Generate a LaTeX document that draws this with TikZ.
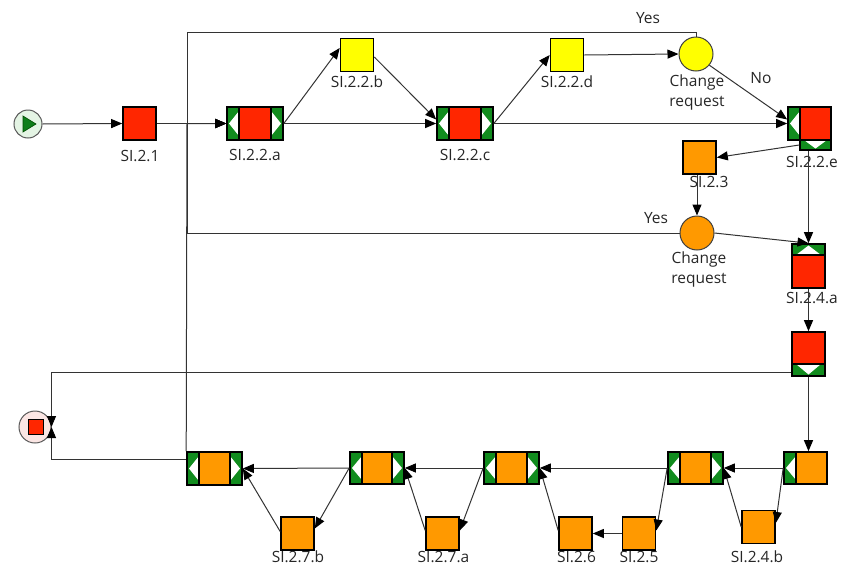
\documentclass[tikz,border=0pt]{standalone}
\usepackage{fontspec}
\setmainfont{Open Sans}
\usetikzlibrary{arrows.meta}
\definecolor{rd}{HTML}{FF2600}
\definecolor{yl}{HTML}{FFFF00}
\definecolor{og}{HTML}{FF9900}
\definecolor{gr}{HTML}{118C1E}
\definecolor{ln}{HTML}{333333}
\definecolor{startfill}{HTML}{E4F4E4}
\definecolor{endfill}{HTML}{FBE6E4}
\tikzset{
 conn/.style={draw=ln, line width=1pt, -{Triangle[length=11pt,width=9pt,black]}},
 lbl/.style={font=\fontsize{15.5}{20}\selectfont, text=black!85, align=center, inner sep=0pt, anchor=base},
 box/.style={draw=black, line width=1.6pt, inner sep=0pt, fill=#1},
 sq/.style={box=#1, minimum width=33pt, minimum height=33pt},
 lstrip/.style={path picture={
   \fill[gr] (path picture bounding box.north west) rectangle ([xshift=12pt]path picture bounding box.south west);
   \fill[white] ([xshift=2pt]path picture bounding box.west) -- ([xshift=12pt,yshift=-4pt]path picture bounding box.north west) -- ([xshift=12pt,yshift=4pt]path picture bounding box.south west) -- cycle;
   \draw[black, line width=1.2pt] ([xshift=12pt]path picture bounding box.north west) -- ([xshift=12pt]path picture bounding box.south west);}},
 both/.style={box=#1, minimum width=56pt, minimum height=33pt, path picture={
   \fill[gr] (path picture bounding box.north west) rectangle ([xshift=12pt]path picture bounding box.south west);
   \fill[white] ([xshift=2pt]path picture bounding box.west) -- ([xshift=12pt,yshift=-4pt]path picture bounding box.north west) -- ([xshift=12pt,yshift=4pt]path picture bounding box.south west) -- cycle;
   \draw[black, line width=1.2pt] ([xshift=12pt]path picture bounding box.north west) -- ([xshift=12pt]path picture bounding box.south west);
   \fill[gr] (path picture bounding box.north east) rectangle ([xshift=-12pt]path picture bounding box.south east);
   \fill[white] ([xshift=-2pt]path picture bounding box.east) -- ([xshift=-12pt,yshift=-4pt]path picture bounding box.north east) -- ([xshift=-12pt,yshift=4pt]path picture bounding box.south east) -- cycle;
   \draw[black, line width=1.2pt] ([xshift=-12pt]path picture bounding box.north east) -- ([xshift=-12pt]path picture bounding box.south east);}},
 leftonly/.style={box=#1, minimum width=43pt, minimum height=33pt, lstrip},
 topbox/.style={box=#1, minimum width=33pt, minimum height=44pt, path picture={
   \fill[gr] (path picture bounding box.north west) rectangle ([yshift=-11pt]path picture bounding box.north east);
   \fill[white] ([yshift=-1.5pt]path picture bounding box.north) -- ([xshift=4pt,yshift=-11pt]path picture bounding box.north west) -- ([xshift=-4pt,yshift=-11pt]path picture bounding box.north east) -- cycle;
   \draw[black, line width=1.2pt] ([yshift=-11pt]path picture bounding box.north west) -- ([yshift=-11pt]path picture bounding box.north east);}},
 botbox/.style={box=#1, minimum width=33pt, minimum height=44pt, path picture={
   \fill[gr] (path picture bounding box.south west) rectangle ([yshift=12pt]path picture bounding box.south east);
   \fill[white] ([yshift=1.5pt]path picture bounding box.south) -- ([xshift=4pt,yshift=12pt]path picture bounding box.south west) -- ([xshift=-4pt,yshift=12pt]path picture bounding box.south east) -- cycle;
   \draw[black, line width=1.2pt] ([yshift=12pt]path picture bounding box.south west) -- ([yshift=12pt]path picture bounding box.south east);}},
 bstrip/.style={box=gr, minimum width=31pt, minimum height=10pt, path picture={
   \fill[white] ([xshift=4pt]path picture bounding box.north west) -- ([xshift=-4pt]path picture bounding box.north east) -- ([yshift=1.5pt]path picture bounding box.south) -- cycle;}},
 gate/.style={circle, draw=black!75, line width=1pt, minimum size=34pt, inner sep=0pt, fill=#1},
}
\begin{document}
\begin{tikzpicture}[x=1pt,y=-1pt]
\useasboundingbox (0,0) rectangle (841,568);
% labels drawn first (SI.2.3 is partly hidden by its box)
\node[lbl] (l21) at (140,161) {SI.2.1};
\node[lbl] (l22a) at (255,160) {SI.2.2.a};
\node[lbl] (l22b) at (357,87) {SI.2.2.b};
\node[lbl] (l22c) at (465,160) {SI.2.2.c};
\node[lbl] (l22d) at (567,87) {SI.2.2.d};
\node[lbl, anchor=north] (lcr1) at (697,75) {Change\\request};
\node[lbl] (lyes1) at (648,23) {Yes};
\node[lbl] (lno) at (761,83) {No};
\node[lbl] (l22e) at (812,167) {SI.2.2.e};
\node[lbl] (l23) at (709,187) {SI.2.3};
\node[lbl] (lyes2) at (656,223) {Yes};
\node[lbl, anchor=north] (lcr2) at (699,252) {Change\\request};
\node[lbl] (l24a) at (812,303) {SI.2.4.a};
\node[lbl] (l24b) at (757,562) {SI.2.4.b};
\node[lbl] (l25) at (639,562) {SI.2.5};
\node[lbl] (l26) at (576.5,562) {SI.2.6};
\node[lbl] (l27a) at (443.5,562) {SI.2.7.a};
\node[lbl] (l27b) at (298,562) {SI.2.7.b};

% nodes
\node[circle, draw=black!65, line width=1pt, fill=startfill, minimum size=28pt, inner sep=0pt] (start) at (28,124) {};
\fill[gr!90!black, draw=black!70!green, line width=0.6pt] (23,116) -- (23,132) -- (36,124) -- cycle;
\node[sq=rd] (s21) at (139.5,123.5) {};
\node[both=rd] (s22a) at (255,123.5) {};
\node[sq=yl] (s22b) at (357,55) {};
\node[both=rd] (s22c) at (465,123.5) {};
\node[sq=yl] (s22d) at (567,55) {};
\node[gate=yl] (cr1) at (696,54) {};
\node[leftonly=rd] (s22e) at (809.5,123.5) {};
\node[bstrip] (s22es) at (815.5,145) {};
\node[sq=og] (s23) at (699.5,157.5) {};
\node[gate=og] (cr2) at (697,233) {};
\node[topbox=rd] (s24a) at (808.5,266) {};
\node[botbox=rd] (rbox) at (808.5,354) {};
\node[circle, draw=black!65, line width=1pt, fill=endfill, minimum size=32pt, inner sep=0pt] (endn) at (35,427) {};
\node[box=rd, line width=1pt, minimum size=15pt] (endsq) at (35.5,426.5) {};
\node[leftonly=og, minimum height=32pt] (b1) at (805.5,468) {};
\node[both=og, minimum width=55pt, minimum height=32pt] (b2) at (695.5,468) {};
\node[both=og, minimum width=55pt, minimum height=32pt] (b3) at (511.5,468) {};
\node[both=og, minimum width=54pt, minimum height=32pt] (b4) at (377,468) {};
\node[both=og, minimum width=55pt, minimum height=33pt] (b5) at (214.5,468.5) {};
\node[sq=og] (s24b) at (758.5,527) {};
\node[sq=og] (s25) at (639,533.5) {};
\node[sq=og] (s26) at (575.5,533.5) {};
\node[sq=og] (s27a) at (442.5,533.5) {};
\node[sq=og] (s27b) at (297.5,533.5) {};

\coordinate (tl) at (187,32);
\coordinate (jn) at (187,123.5);

% connectors
\draw[conn] (start.east) -- (s21.west);
\draw[conn] (s21.east) -- (s22a.west);
\draw[conn] (s22a.east) -- ([yshift=7pt]s22b.west);
\draw[conn] (s22a.east) -- (s22c.west);
\draw[conn] ([yshift=-2pt]s22b.east) -- ([yshift=4pt]s22c.west);
\draw[conn] (s22c.east) -- (s22d.west);
\draw[conn] (s22c.east) -- (s22e.west);
\draw[conn] (s22d.east) -- (cr1.west);
\draw[conn] (cr1.-40) -- ([yshift=4pt]s22e.west);
\draw[conn] (cr1.north) |- (tl) |- (s22a.west);
\draw[conn] (s22es.west) -- (s23.east);
\draw[conn] (s24a.north |- s22es.south) -- (s24a.north);
\draw[conn] (cr2.north |- s23.south) -- (cr2.north);
\draw[conn] (cr2.east) -- (s24a.north);
\draw[conn] (cr2.west) -| (jn) -- (s22a.west);
\draw[conn] (s24a.south) -- (rbox.north);
\draw[conn] ([yshift=-18pt]rbox.west) -| (endn.east);
\draw[conn] (rbox.south) -- (rbox.south |- b1.north);
\draw[conn] (b1.west) -- (b2.east);
\draw[conn] (b1.west) -- ([yshift=4pt]s24b.east);
\draw[conn] (s24b.west) -- (b2.east);
\draw[conn] (b2.west) -- ([yshift=3pt]s25.east);
\draw[conn] (s25.west) -- (s26.east);
\draw[conn] ([yshift=3pt]s26.west) -- (b3.east);
\draw[conn] (b2.west) -- (b3.east);
\draw[conn] (b3.west) -- ([yshift=3pt]s27a.east);
\draw[conn] ([yshift=3pt]s27a.west) -- (b4.east);
\draw[conn] (b3.west) -- (b4.east);
\draw[conn] (b4.west) -- ([yshift=5pt]s27b.east);
\draw[conn] ([yshift=2pt]s27b.west) -- (b5.east);
\draw[conn] (b4.west) -- (b5.east);
\draw[conn] ([yshift=9pt]b5.west) -| (endn.east);
\draw[conn] (b5.north west) -- (jn) -- (s22a.west);
\end{tikzpicture}
\end{document}
